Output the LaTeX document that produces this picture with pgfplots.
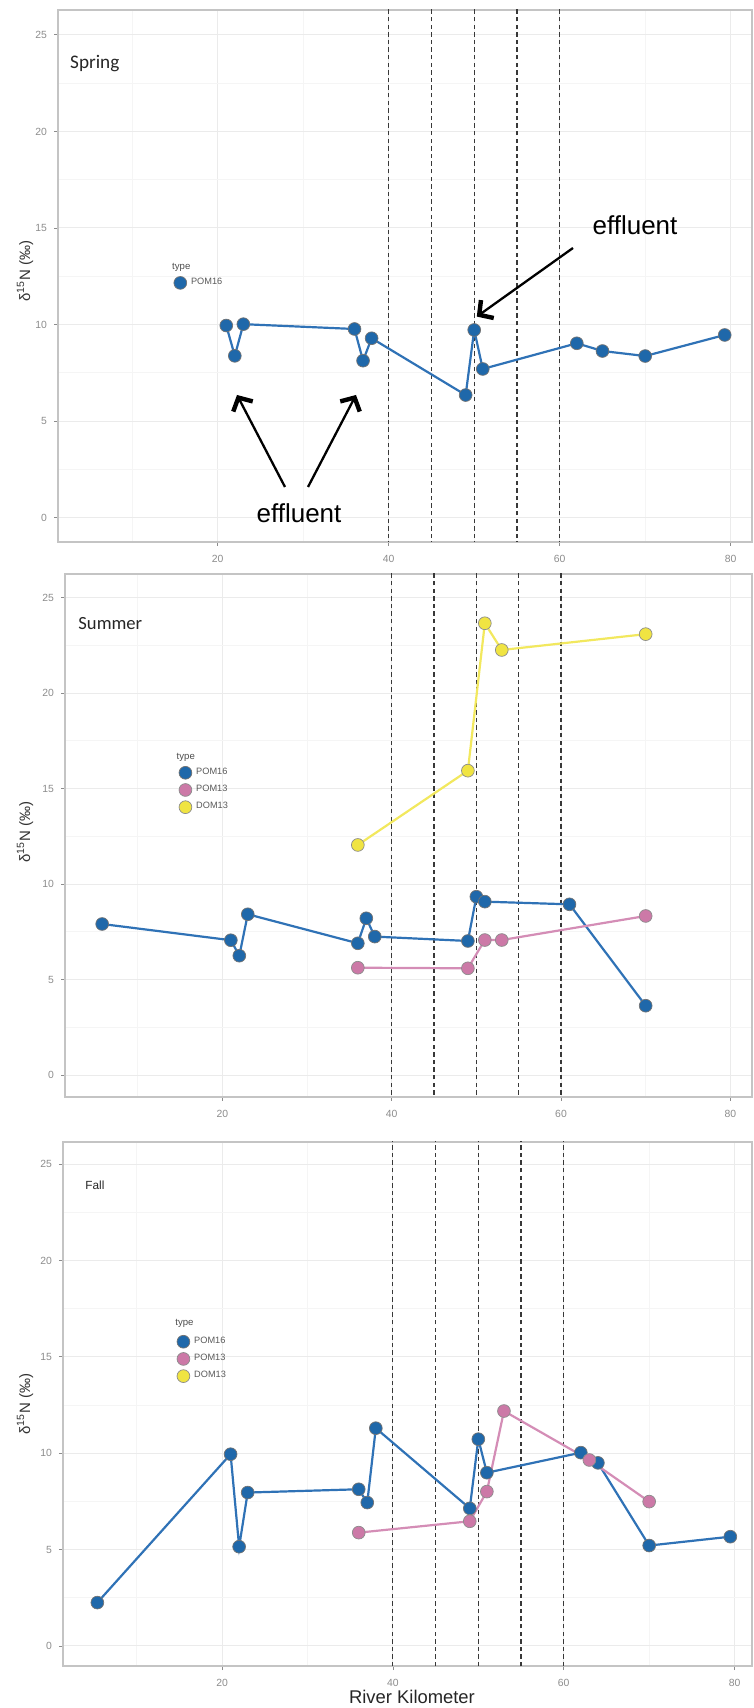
\documentclass[border=0pt]{standalone}
\usepackage{fontspec}
\setmainfont{Liberation Sans}
\newfontfamily\calibri{Carlito}
\usepackage{pgfplots}
\pgfplotsset{compat=1.18}
\usetikzlibrary{arrows.meta}

\definecolor{cblue}{HTML}{1F68AA}
\definecolor{cbluel}{HTML}{2F72B6}
\definecolor{cpink}{HTML}{CC79A7}
\definecolor{cpinkl}{HTML}{D48DB6}
\definecolor{cyellow}{HTML}{F0E442}
\definecolor{cyellowl}{HTML}{F2E85E}
\definecolor{gridmaj}{HTML}{EBEBEB}
\definecolor{gridmin}{HTML}{F5F5F5}
\definecolor{framec}{HTML}{C4C4C4}
\definecolor{tickc}{HTML}{8C8C8C}

\tikzset{vline/.style={black!78, line width=0.55pt, dash pattern=on 2.2pt off 1.6pt}}

\pgfplotsset{
  panel/.style={
    scale only axis,
    anchor=south west,
    axis line style={framec, line width=0.7pt},
    xtick={20,40,60,80},
    ytick={0,5,10,15,20,25},
    minor xtick={10,30,50,70},
    minor ytick={2.5,7.5,12.5,17.5,22.5},
    grid=both,
    major grid style={gridmaj, line width=0.5pt},
    minor grid style={gridmin, line width=0.4pt},
    major tick style={tickc, line width=0.4pt},
    major tick length=2pt,
    minor tick length=0pt,
    tick align=outside,
    tick pos=left,
    tick label style={font=\fontsize{5.2}{6}\selectfont, text=tickc},
    xticklabel style={yshift=-1pt},
    /pgf/number format/assume math mode=true,
    legend style={draw=none, fill=none, inner sep=0pt, outer sep=0pt,
      font=\fontsize{4.6}{5.5}\selectfont, text=black!65, row sep=2.2pt,
      nodes={inner sep=0.6pt},
      /tikz/every odd column/.style={column sep=1.6pt}},
    legend cell align=left,
  },
  bline/.style={cbluel, line width=1.1pt, no marks},
  pline/.style={cpinkl, line width=1.1pt, no marks},
  yline/.style={cyellowl, line width=1.1pt, no marks},
  mkimg/.style={legend image code/.code={\draw[##1] plot coordinates {(0pt,0pt)};}},
  bmark/.style={only marks, mark=*, mark size=3.2pt, mark options={fill=cblue, draw=black!55, line width=0.35pt}, mkimg},
  pmark/.style={only marks, mark=*, mark size=3.2pt, mark options={fill=cpink, draw=black!45, line width=0.35pt}, mkimg},
  ymark/.style={only marks, mark=*, mark size=3.2pt, mark options={fill=cyellow, draw=black!45, line width=0.35pt}, mkimg},
}

\pgfplotstableread{
x y
21 9.95
22 8.38
23 10.02
36 9.77
37 8.13
38 9.29
49 6.35
50 9.72
51 7.70
62 9.03
65 8.63
70 8.37
79.3 9.46
}\springpom

\pgfplotstableread{
x y
5.8 7.91
21 7.06
22 6.25
23 8.42
36 6.90
37 8.21
38 7.25
49 7.02
50 9.34
51 9.08
61 8.94
70 3.63
}\summerpomsixteen

\pgfplotstableread{
x y
36 5.62
49 5.59
51 7.07
53 7.07
70 8.33
}\summerpomthirteen

\pgfplotstableread{
x y
36 12.05
49 15.94
51 23.66
53 22.26
70 23.09
}\summerdom

\pgfplotstableread{
x y
5.4 2.25
21 9.95
22 5.15
23 7.96
36 8.13
37 7.44
38 11.30
49 7.14
50 10.73
51 8.99
62 10.03
64 9.50
70 5.21
79.5 5.67
}\fallpomsixteen

\pgfplotstableread{
x y
36 5.88
49 6.47
51 8.01
53 12.19
63 9.65
70 7.49
}\fallpomthirteen

\begin{document}
\begin{tikzpicture}
\useasboundingbox (0,0) rectangle (377pt,854pt);

% ---------------- Spring ----------------
\begin{axis}[panel, at={(29pt,583pt)}, width=347pt, height=266pt,
  xmin=1.32, xmax=82.49, ymin=-1.26, ymax=26.29,
  legend style={at={(0.167,0.487)}, anchor=west}]
\pgfplotsinvokeforeach{40,45,50,55,60}{\draw[vline] (axis cs:#1,-5) -- (axis cs:#1,30);}
\addplot[bline, forget plot] table {\springpom};
\addplot[bmark] table {\springpom};
\addlegendentry{POM16}
\node[anchor=west, font=\fontsize{4.8}{5.5}\selectfont, text=black!70, inner sep=0pt] at (rel axis cs:0.164,0.517) {type};
\node[anchor=west, font=\calibri\fontsize{9.6}{11}\selectfont, text=black!85, inner sep=0pt] at (rel axis cs:0.017,0.900) {Spring};
\end{axis}

% ---------------- Summer ----------------
\begin{axis}[panel, at={(32.5pt,305.5pt)}, width=343.5pt, height=261.5pt,
  xmin=1.41, xmax=82.56, ymin=-1.15, ymax=26.24,
  legend style={at={(0.166,0.587)}, anchor=west}]
\pgfplotsinvokeforeach{40,45,50,55,60}{\draw[vline] (axis cs:#1,-5) -- (axis cs:#1,30);}
\addplot[bline, forget plot] table {\summerpomsixteen};
\addplot[pline, forget plot] table {\summerpomthirteen};
\addplot[yline, forget plot] table {\summerdom};
\addplot[bmark] table {\summerpomsixteen};
\addlegendentry{POM16}
\addplot[pmark] table {\summerpomthirteen};
\addlegendentry{POM13}
\addplot[ymark] table {\summerdom};
\addlegendentry{DOM13}
\node[anchor=west, font=\fontsize{4.8}{5.5}\selectfont, text=black!70, inner sep=0pt] at (rel axis cs:0.162,0.650) {type};
\node[anchor=west, font=\calibri\fontsize{9.3}{11}\selectfont, text=black!85, inner sep=0pt] at (rel axis cs:0.019,0.906) {Summer};
\end{axis}

% ---------------- Fall ----------------
\begin{axis}[panel, at={(31.5pt,21pt)}, width=344.5pt, height=262pt,
  xmin=1.38, xmax=82.04, ymin=-1.04, ymax=26.15,
  legend style={at={(0.1655,0.586)}, anchor=west}]
\pgfplotsinvokeforeach{40,45,50,55,60}{\draw[vline] (axis cs:#1,-5) -- (axis cs:#1,30);}
\addplot[bline, forget plot] table {\fallpomsixteen};
\addplot[pline, forget plot] table {\fallpomthirteen};
\addplot[bmark] table {\fallpomsixteen};
\addlegendentry{POM16}
\addplot[pmark] table {\fallpomthirteen};
\addlegendentry{POM13}
\addlegendimage{ymark}
\addlegendentry{DOM13}
\node[anchor=west, font=\fontsize{4.8}{5.5}\selectfont, text=black!70, inner sep=0pt] at (rel axis cs:0.1625,0.653) {type};
\node[anchor=west, font=\fontsize{5.9}{7}\selectfont, text=black!85, inner sep=0pt] at (rel axis cs:0.032,0.918) {Fall};
\end{axis}

% ---------------- labels ----------------
\node[rotate=90, font=\fontsize{7.5}{9}\selectfont, text=black!80] at (12.5pt,718.25pt) {δ\textsuperscript{15}N (‰)};
\node[rotate=90, font=\fontsize{7.5}{9}\selectfont, text=black!80] at (12.5pt,437.75pt) {δ\textsuperscript{15}N (‰)};
\node[rotate=90, font=\fontsize{7.5}{9}\selectfont, text=black!80] at (12.5pt,152pt) {δ\textsuperscript{15}N (‰)};
\node[font=\fontsize{9.2}{11}\selectfont, text=black!85] at (206pt,5.5pt) {River Kilometer};

% ---------------- effluent annotations ----------------
\node[font=\fontsize{13}{15}\selectfont] at (317.5pt,741.5pt) {effluent};
\node[font=\fontsize{13}{15}\selectfont] at (149.5pt,597.5pt) {effluent};
\draw[line width=1.15pt, -{Straight Barb[length=5pt,width=11pt,line width=2.2pt]}] (286.5pt,730pt) -- (238.4pt,695.7pt);
\draw[line width=1.15pt, -{Straight Barb[length=5pt,width=11pt,line width=2.2pt]}] (142.5pt,610.5pt) -- (118.5pt,656.5pt);
\draw[line width=1.15pt, -{Straight Barb[length=5pt,width=11pt,line width=2.2pt]}] (154pt,610.5pt) -- (178pt,656.5pt);
\end{tikzpicture}
\end{document}
